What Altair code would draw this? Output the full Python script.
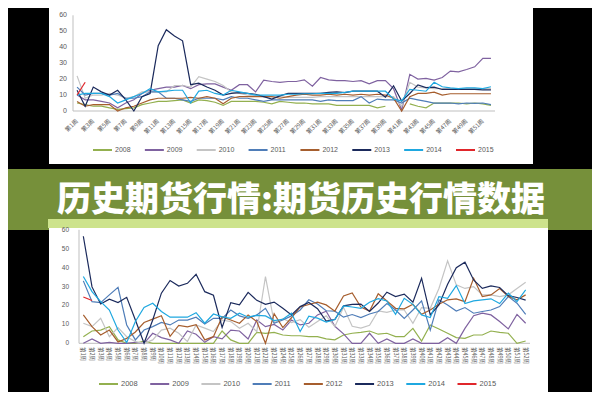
import altair as alt
import pandas as pd

years = ["2008", "2009", "2010", "2011", "2012", "2013", "2014", "2015"]
colors = ["#93B04F", "#7F62A0", "#C4C4C4", "#4F7DB8", "#A65E2E", "#1B2A5C", "#1FA8E0", "#E0262B"]
weeks = list(range(1, 53))
y_ticks = [0, 10, 20, 30, 40, 50, 60]
title_text = "历史期货行情:期货历史行情数据"
N = None

top_2008 = [5,4,3,3,2,1,1.5,2,4,5,6,6,6.5,7,5,7,6.5,5.5,3.5,6,6,6,6,5.5,4.5,6,5.5,5,5,4.5,4.5,4.5,3.5,3.5,3.5,3.5,3.5,2,3,N,N,4.5,3,2,5,5,5,5,4.5,5,4.5,3.5]
top_2009 = [10,7,7,6,5,2,5,7,11,13,14,15,15,16,14,16.5,17,17,15,13,16.5,16.5,12,19.4,18.5,18,18.5,18.5,19.5,15.6,21,19.5,19,19,18.5,19,17,19,19,14,0.5,23,20,20.5,19.4,21,25,24.5,26,27.7,33,33]
top_2010 = [22,8,10,10,11,10,8,9,12,12,12,12,16,16,15,21.5,20,18.5,16,12,11,10,9.5,9,9,9,8.5,8.5,8.5,8.5,9,9,9,9,9,9,9,9,9,9,3,18,15,14.5,14,14,14,14,14,14,14,14]
top_2011 = [15,10,11,11,10,11,8,8,9,12,12,8,8,7,6,8,8,8,7,9,8,8,7,6,7,7,7,7,7,7,6,7,6.5,6.5,6.5,9,5,7.5,7,7,5,8,7,6,5,5,5,4.5,5,4.8,5,4]
top_2012 = [6,3,4,4,4,0,2,3,5,7,8,8,8,8,8.5,8,9,8,4.5,8,9,9,9,9,9,8,9,10,10.5,10,10,10.5,10,10.5,10,10.5,10,10.5,10,8,0,9,11,11,11.8,10,10.8,10.8,10.8,10.8,10.8,10.8]
top_2013 = [13,3,15,12,10,13,7,0,9,11,41,51,47,44,16.5,17.5,15,13,10,11,11.5,11,10.5,9,7.5,9.5,11,11,11,11,11,11.7,12,11.5,12.4,12.4,12.4,12.4,8.7,15.8,6.3,11,16.4,14.7,15,13.5,13.5,13.5,13.5,13.5,13.2,13.2]
top_2014 = [10,11,11,11,9,5,7,9,11,14,12,12.5,13,13,5,12.5,13,11,10,13,12,11,10,10,10,10,10.5,10.5,10.8,10.8,11,11,11,11.7,12.4,12.4,12.4,12.4,12.4,7.5,6.3,13.5,13,12.4,18,15.2,14.5,14,14.5,14.5,14,15.2]
top_2015 = [10, 18]

bot_2008 = [3.5,6.5,7,8.8,1.8,0,0,1.2,0,0,0,0,0,0,0,0,6.5,1.8,0,0,5.8,5.3,5.8,4.4,4,4,3.5,3.5,2.3,1.8,4.4,5.3,5.8,6.5,4.8,5.3,3.5,3.5,7.9,1.2,9.7,7.6,5.3,3,2.6,4.4,4.4,6.5,5.8,5.3,0,1.2]
bot_2009 = [0,2.3,0,0.5,0,0,0.5,0,5.3,3,1.8,0,6.5,4.8,0.5,3.5,2.3,7,6.5,2.3,12.3,8.8,10,7,12.3,9.7,10.6,15,17,9,5,0,0,5.3,0,2.3,0,0,2.3,0,0,0,3,0,7.9,14.6,15.9,15,11.5,7.6,15.3,10.6]
bot_2010 = [10.6,8.8,13.2,3.5,8.3,3.5,0.9,0,1.8,7,8,5.3,0.9,9.7,8,6.2,12.3,11.5,8,10.6,6.2,35.3,11,13,11,12.5,8.5,11.5,14.5,8.8,19,9,8,9.5,17.1,16.4,17.6,17.6,10.6,18.9,18.5,29,43.6,30.9,29,30,25.6,25.6,24.7,25.6,29,32.3]
bot_2011 = [33,22,21.5,25.6,29.6,9.7,1.8,7,8.8,11,9.7,12.3,12.3,13.8,10.2,13.2,13.2,17.6,14.5,13.2,15,18.5,10.6,12.3,14.5,17.6,23,20.8,17.2,17,13.8,15.2,13.6,15.5,16.8,21,17.6,13.2,17.6,22.4,7,23,20.3,17.1,18.9,15.9,16.8,17.6,19.4,24.7,21.2,15.3]
bot_2012 = [15,8.8,4.4,7,0.7,2.6,6,11,12.8,14.6,3.7,9.5,8.7,9.8,1.8,3.5,14,12.3,10.6,15,11.5,0,15.6,8.3,13.5,19.2,20.5,21.8,20.3,17,25,26.6,19.2,17,26.2,22.4,18.5,18.2,20.6,15.3,17.6,20.6,23,23.5,22,34.4,24.7,25.6,29,24.7,23,25.6]
bot_2013 = [56.6,29.8,20.8,23.3,21.5,24.3,12.3,0,12.3,26.5,33.2,30.3,31.7,36.5,27.3,25.4,8.4,21.5,20.3,26.9,22.7,20.6,21.8,18.5,15,19.4,21.6,18.3,11.7,12.6,19.8,20.6,20.7,16.8,21.3,27,24.7,26,21.7,34.4,15,20.3,31.2,40,42.9,33.5,29,30.3,29.5,25.2,24.2,22.8]
bot_2014 = [35.3,27.3,22,17.6,7,0.4,11.5,19,21.2,16.8,13.8,13.8,13.8,16.2,10.6,15.5,14,13.2,15.9,13.8,14.8,14.5,12,12.7,15.9,6.2,14.3,13.3,11.2,12.6,19.8,19.2,18.5,21.7,23.6,22.4,15.3,23.8,20.6,15,13.6,24.7,23.8,30.5,21,22.4,23,23.5,21,26.5,22,28.2]
bot_2015 = [24.5, 22.6]

top_series = [top_2008, top_2009, top_2010, top_2011, top_2012, top_2013, top_2014, top_2015]
bot_series = [bot_2008, bot_2009, bot_2010, bot_2011, bot_2012, bot_2013, bot_2014, bot_2015]


def long_df(series):
    rows = []
    for y, vals in zip(years, series):
        for w, v in zip(weeks, vals):
            rows.append({"year": y, "week": w, "value": v})
    return pd.DataFrame(rows)


one = pd.DataFrame({"a": [0]})
FONT = "Liberation Sans, Noto Sans CJK SC"
CJK = "Noto Sans CJK SC"
AXIS_C = "#BFBFBF"
LABEL_C = "#595959"
cscale = alt.Scale(domain=years, range=colors)


def rect(x, x2, y, y2, color):
    return alt.Chart(one).mark_rect(color=color).encode(
        x=alt.value(x), x2=alt.value(x2), y=alt.value(y), y2=alt.value(y2))


def panel(series, xr, yr, widths, label_weeks, xlab_y, angle, align, xfont,
          ylab_x, yfont, leg_y, leg_range, leg_font, leg_len):
    xs = alt.Scale(domain=[0.5, 52.5], range=xr, nice=False, zero=False)
    ys = alt.Scale(domain=[0, 60], range=yr, nice=False, zero=False)
    df = long_df(series).dropna(subset=["value"]) if False else long_df(series)
    lines = alt.Chart(df).mark_line().encode(
        x=alt.X("week:Q", scale=xs, axis=None),
        y=alt.Y("value:Q", scale=ys, axis=None),
        color=alt.Color("year:N", scale=cscale, legend=None),
        strokeWidth=alt.StrokeWidth("year:N", scale=alt.Scale(domain=years, range=widths), legend=None),
        order="week:Q",
    )
    yaxis = alt.Chart(one).mark_rule(color=AXIS_C, strokeWidth=1).encode(
        x=alt.value(xr[0]), y=alt.value(yr[0]), y2=alt.value(yr[1]))
    xaxis = alt.Chart(one).mark_rule(color=AXIS_C, strokeWidth=1).encode(
        x=alt.value(xr[0]), x2=alt.value(xr[1]), y=alt.value(yr[0]))
    ylabels = alt.Chart(pd.DataFrame({"tick": y_ticks})).mark_text(
        align="right", baseline="middle", font=FONT, fontSize=yfont, color=LABEL_C).encode(
        y=alt.Y("tick:Q", scale=ys, axis=None), x=alt.value(ylab_x), text="tick:Q")
    ldf = pd.DataFrame({"week": label_weeks, "label": [f"第{w}周" for w in label_weeks]})
    xlabels = alt.Chart(ldf).mark_text(
        align=align, baseline="middle", angle=angle, font=CJK, fontSize=xfont, color=LABEL_C).encode(
        x=alt.X("week:Q", scale=xs, axis=None), y=alt.value(xlab_y), text="label:N")
    legx = alt.Scale(domain=years, range=leg_range, padding=0)
    legdf = pd.DataFrame({"year": years})
    leg_sym = alt.Chart(legdf).mark_point(shape="stroke", size=leg_len * leg_len, strokeWidth=2, opacity=1).encode(
        x=alt.X("year:N", scale=legx, axis=None), y=alt.value(leg_y),
        color=alt.Color("year:N", scale=cscale, legend=None))
    leg_txt = alt.Chart(legdf).mark_text(
        align="left", baseline="middle", dx=leg_len / 2 + 3, font=FONT, fontSize=leg_font, color=LABEL_C).encode(
        x=alt.X("year:N", scale=legx, axis=None), y=alt.value(leg_y), text="year:N")
    return [yaxis, xaxis, lines, ylabels, xlabels, leg_sym, leg_txt]


odd_weeks = [w for w in weeks if w % 2 == 1]

top_layers = panel(top_series, [65, 487], [103, 7.3],
                   [1.2, 1.2, 1.2, 1.2, 1.2, 1.8, 1.8, 2.0],
                   odd_weeks, 112, 315, "right", 6,
                   59, 7, 142, [94.5, 457.5], 7, 19)
bot_layers = panel(bot_series, [71, 522], [335.3, 221.8],
                   [1.5, 1.5, 1.5, 1.5, 1.5, 2.5, 2.5, 2.5],
                   weeks, 339, 90, "left", 5.5,
                   61, 6.5, 376, [100.5, 459], 7.5, 19)

deco = [
    rect(41, 525, 0, 156, "white"),
    rect(0, 584, 161, 222, "#76903A"),
    rect(41, 540, 220, 390, "white"),
    rect(40, 540, 211, 220, "#CDE38C"),
    alt.Chart(one).mark_text(align="center", baseline="middle", font=CJK, fontSize=34,
                             fontWeight=900, color="white").encode(
        x=alt.value(293), y=alt.value(193), text=alt.value(title_text)),
]

chart = alt.layer(*deco, *top_layers, *bot_layers).resolve_scale(
    x="independent", y="independent"
).properties(
    width=584, height=384, background="black", padding=0,
    autosize=alt.AutoSizeParams(type="none"),
).configure_view(strokeWidth=0)

chart.save("out.html", embed_options={"renderer": "svg", "actions": False})
